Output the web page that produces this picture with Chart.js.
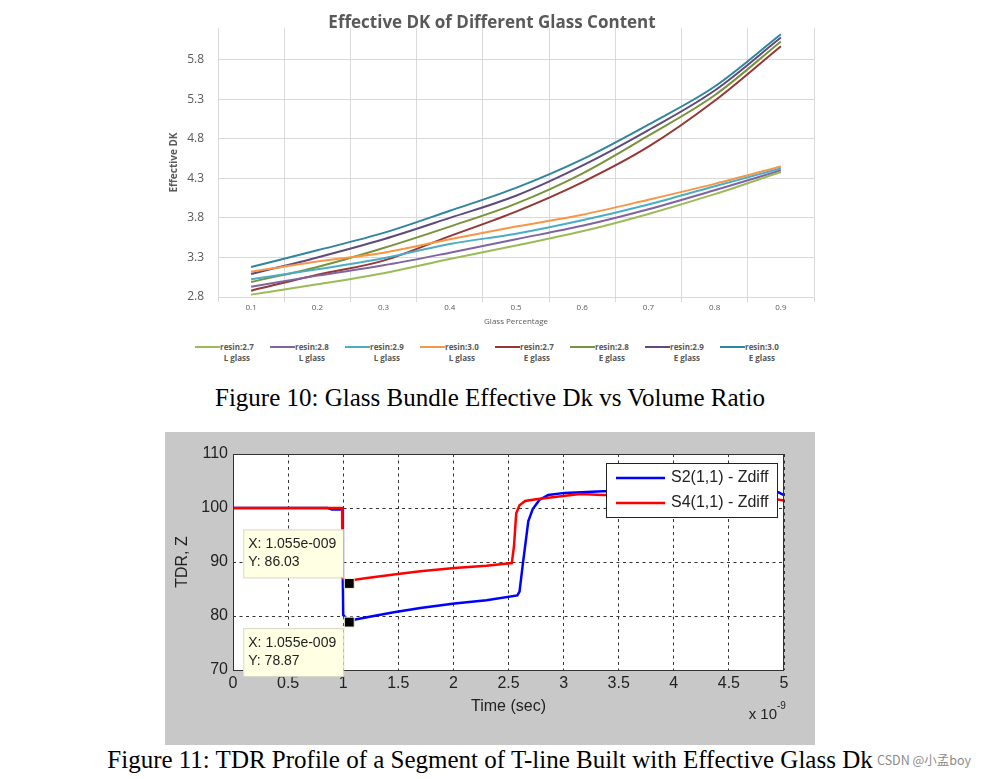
<!DOCTYPE html>
<html>
<head>
<meta charset="utf-8">
<title>Effective DK / TDR</title>
<script src="https://cdn.jsdelivr.net/npm/chart.js@4.4.1/dist/chart.umd.min.js"></script>
<style>
  body { margin: 0; background: #fff; }
  #page { position: relative; width: 1000px; height: 779px; overflow: hidden; }
  #dk-canvas { position: absolute; left: 160px; top: 0; }
  #dk-title {
    position: absolute; left: 0; top: 11px; width: 984px; text-align: center;
    font: bold 17px "Open Sans"; color: #595959; line-height: 22px;
  }
  #dk-legend { position: absolute; left: 0; top: 341px; width: 1000px; height: 26px; }
  .leg-item {
    position: absolute; top: 0; display: flex; align-items: flex-start;
    font: bold 8px "Open Sans"; color: #595959; line-height: 11px;
  }
  .leg-item .sw { display: inline-block; width: 25px; height: 2px; margin-top: 5px; }
  .leg-item .txt { text-align: center; }
  .caption {
    position: absolute; left: 0; width: 980px; text-align: center;
    font: 25px "Liberation Serif"; color: #000; line-height: 28px;
  }
  #tdr-canvas { position: absolute; left: 165px; top: 432px; }
  #mark {
    position: absolute; left: 877px; top: 752px;
    font: 12.5px "Noto Sans CJK SC"; color: #8a8a8a; line-height: 16px;
  }
</style>
</head>
<body>
<div id="page">
  <canvas id="dk-canvas" width="670" height="335"></canvas>
  <div id="dk-title">Effective DK of Different Glass Content</div>
  <div id="dk-legend"></div>
  <div class="caption" style="top:384px">Figure 10: Glass Bundle Effective Dk vs Volume Ratio</div>
  <canvas id="tdr-canvas" width="650" height="313"></canvas>
  <div class="caption" style="top:746px">Figure 11: TDR Profile of a Segment of T-line Built with Effective Glass Dk</div>
  <div id="mark">CSDN @小孟boy</div>
</div>
<script>
// ---- Figure 10 data ----
const glassPct = ["0.1", "0.2", "0.3", "0.4", "0.5", "0.6", "0.7", "0.8", "0.9"];
const dkTicks = [2.8, 3.3, 3.8, 4.3, 4.8, 5.3, 5.8];

const resin27L = [2.83, 2.96, 3.1, 3.28, 3.45, 3.63, 3.85, 4.1, 4.38];
const resin28L = [2.93, 3.07, 3.2, 3.36, 3.53, 3.7, 3.91, 4.15, 4.4];
const resin29L = [3.025, 3.15, 3.29, 3.47, 3.6, 3.77, 3.97, 4.2, 4.425];
const resin30L = [3.12, 3.25, 3.36, 3.53, 3.69, 3.84, 4.03, 4.23, 4.45];
const resin27E = [2.88, 3.08, 3.26, 3.57, 3.88, 4.25, 4.7, 5.28, 5.97];
const resin28E = [2.99, 3.18, 3.42, 3.69, 3.98, 4.36, 4.84, 5.35, 6.03];
const resin29E = [3.09, 3.3, 3.53, 3.8, 4.08, 4.46, 4.91, 5.41, 6.08];
const resin30E = [3.18, 3.39, 3.61, 3.89, 4.18, 4.54, 4.98, 5.46, 6.12];

const resinNames = ["resin:2.7", "resin:2.8", "resin:2.9", "resin:3.0", "resin:2.7", "resin:2.8", "resin:2.9", "resin:3.0"];
const glassNames = ["L glass", "L glass", "L glass", "L glass", "E glass", "E glass", "E glass", "E glass"];

// ---- Figure 11 data (time in units of 1e-9 s) ----
const s2Time = [0, 0.86, 0.9, 0.995, 0.997, 1.0, 1.055, 1.08, 1.12, 1.3, 1.46, 1.7, 2.01, 2.3, 2.58, 2.6, 2.63, 2.68, 2.72, 2.78, 2.86, 3.01, 3.36, 3.8, 4.3, 4.8, 4.95, 5.0];
const s2Z = [100, 100, 99.7, 99.7, 86, 80.2, 78.87, 79.2, 79.4, 80.1, 80.7, 81.5, 82.3, 82.9, 83.8, 84.5, 89.6, 97.6, 99.8, 101.5, 102.4, 102.8, 103.1, 103.2, 103.1, 103.0, 102.9, 102.4];
const s4Time = [0, 0.99, 0.992, 0.995, 1.055, 1.07, 1.2, 1.46, 1.7, 2.01, 2.3, 2.53, 2.55, 2.57, 2.6, 2.65, 2.75, 2.9, 3.15, 3.35, 4.0, 4.5, 4.9, 5.0];
const s4Z = [100, 100, 95, 87, 86.03, 86.6, 87.0, 87.7, 88.3, 88.9, 89.3, 89.8, 93, 99, 100.5, 101.3, 101.6, 102.0, 102.6, 102.4, 102.4, 102.3, 101.7, 101.4];
const tipTime = [1.055, 1.055];
const tipZ = [86.03, 78.87];

// ---- Figure 10 ----
const dkColors = ["#9bbb59", "#8064a2", "#4bacc6", "#f79646", "#953735", "#77933c", "#604a7b", "#31859c"];
const dkSeries = [resin27L, resin28L, resin29L, resin30L, resin27E, resin28E, resin29E, resin30E];

const legendBox = document.getElementById("dk-legend");
dkSeries.forEach((s, i) => {
  const item = document.createElement("div");
  item.className = "leg-item";
  item.style.left = (195 + 75 * i) + "px";
  item.innerHTML = '<span class="sw" style="background:' + dkColors[i] + '"></span>' +
    '<span class="txt">' + resinNames[i] + "<br>" + glassNames[i] + "</span>";
  legendBox.appendChild(item);
});

new Chart(document.getElementById("dk-canvas"), {
  type: "line",
  data: {
    labels: glassPct,
    datasets: dkSeries.map((s, i) => ({
      label: resinNames[i] + " " + glassNames[i],
      data: s,
      borderColor: dkColors[i],
      backgroundColor: dkColors[i],
      borderWidth: 2,
      pointRadius: 0,
      cubicInterpolationMode: "monotone",
      fill: false,
    })),
  },
  options: {
    responsive: false,
    animation: false,
    layout: { padding: { left: 0, right: 16, top: 28, bottom: 0 } },
    plugins: {
      legend: { display: false },
      tooltip: { enabled: false },
    },
    scales: {
      x: {
        offset: true,
        grid: { offset: true, color: "#d9d9d9", drawTicks: true, tickLength: 5, tickColor: "#d9d9d9" },
        border: { display: true, color: "#d9d9d9" },
        ticks: { color: "#595959", padding: 1, maxRotation: 0, font: { size: 8, family: "Open Sans" } },
        title: {
          display: true,
          text: "Glass Percentage",
          color: "#595959",
          font: { size: 8, family: "Open Sans" },
          padding: { top: 0, bottom: 8 },
        },
        afterFit: (s) => { s.height = 38; },
      },
      y: {
        min: 2.8,
        max: 6.2,
        afterBuildTicks: (s) => { s.ticks = dkTicks.map((v) => ({ value: v })); },
        grid: { color: "#d9d9d9", drawTicks: false },
        border: { display: false },
        ticks: {
          color: "#595959",
          padding: 14,
          font: { size: 12, family: "Open Sans" },
          callback: (v) => Number(v).toFixed(1),
        },
        title: {
          display: true,
          text: "Effective DK",
          color: "#595959",
          font: { size: 10, weight: "bold", family: "Open Sans" },
          padding: { top: 8, bottom: 0 },
        },
        afterFit: (s) => { s.width = 58; },
      },
    },
  },
});

// ---- Figure 11 ----
const matlabLook = {
  id: "matlabLook",
  beforeDraw(chart) {
    const { ctx, chartArea: a } = chart;
    ctx.save();
    ctx.fillStyle = "#c8c8c8";
    ctx.fillRect(0, 0, chart.width, chart.height);
    ctx.fillStyle = "#fff";
    ctx.fillRect(a.left, a.top, a.right - a.left, a.bottom - a.top);
    ctx.restore();
  },
  afterDraw(chart) {
    const { ctx, chartArea: a, scales } = chart;
    ctx.save();
    // axes box
    ctx.strokeStyle = "#333";
    ctx.lineWidth = 1;
    ctx.strokeRect(a.left + 0.5, a.top + 0.5, a.right - a.left - 1, a.bottom - a.top);

    // legend
    const lw = 171, lh = 54;
    const lx = a.right - 7 - lw, ly = a.top + 9;
    ctx.fillStyle = "#fff";
    ctx.fillRect(lx, ly, lw, lh);
    ctx.strokeStyle = "#222";
    ctx.strokeRect(lx + 0.5, ly + 0.5, lw, lh);
    ctx.font = "16px 'Liberation Sans'";
    ctx.textBaseline = "middle";
    ctx.textAlign = "left";
    chart.data.datasets.slice(0, 2).forEach((ds, i) => {
      const yy = ly + 15 + i * 25;
      ctx.strokeStyle = ds.borderColor;
      ctx.lineWidth = 2.5;
      ctx.beginPath();
      ctx.moveTo(lx + 10, yy);
      ctx.lineTo(lx + 59, yy);
      ctx.stroke();
      ctx.fillStyle = "#222";
      ctx.fillText(ds.label, lx + 65, yy);
    });

    // data tips
    ctx.font = "14px 'Liberation Sans'";
    tipTime.forEach((t, i) => {
      const px = scales.x.getPixelForValue(t);
      const py = scales.y.getPixelForValue(tipZ[i]);
      const bw = 100, bh = 48;
      const bx = px - 6 - bw;
      const by = i === 0 ? py - 6 - bh : py + 6;
      ctx.fillStyle = "#ffffe4";
      ctx.fillRect(bx, by, bw, bh);
      ctx.strokeStyle = "#d8d8c8";
      ctx.lineWidth = 1;
      ctx.strokeRect(bx + 0.5, by + 0.5, bw, bh);
      ctx.fillStyle = "#222";
      ctx.fillText("X: " + t.toFixed(3) + "e-009", bx + 5, by + 15);
      ctx.fillText("Y: " + tipZ[i].toFixed(2), bx + 5, by + 33);
    });

    // exponent label
    ctx.fillStyle = "#222";
    ctx.textAlign = "right";
    ctx.font = "15px 'Liberation Sans'";
    ctx.fillText("x 10", a.right - 7, a.bottom + 45);
    ctx.textAlign = "left";
    ctx.font = "10px 'Liberation Sans'";
    ctx.fillText("-9", a.right - 7, a.bottom + 36);
    ctx.restore();
  },
};

const matlabFont = { size: 16, family: "Liberation Sans" };

new Chart(document.getElementById("tdr-canvas"), {
  type: "line",
  data: {
    datasets: [
      {
        label: "S2(1,1) - Zdiff",
        data: s2Time.map((t, i) => ({ x: t, y: s2Z[i] })),
        borderColor: "#0000ff",
        borderWidth: 2.5,
        pointRadius: 0,
        tension: 0,
        order: 2,
      },
      {
        label: "S4(1,1) - Zdiff",
        data: s4Time.map((t, i) => ({ x: t, y: s4Z[i] })),
        borderColor: "#ff0000",
        borderWidth: 2.5,
        pointRadius: 0,
        tension: 0,
        order: 1,
      },
      {
        label: "data tips",
        data: tipTime.map((t, i) => ({ x: t, y: tipZ[i] })),
        showLine: false,
        pointStyle: "rect",
        pointRadius: 7,
        backgroundColor: "#000",
        borderColor: "#f4f4d8",
        borderWidth: 1,
        order: 0,
      },
    ],
  },
  options: {
    responsive: false,
    animation: false,
    layout: { padding: { left: 0, right: 31, top: 22, bottom: 0 } },
    plugins: {
      legend: { display: false },
      tooltip: { enabled: false },
    },
    scales: {
      x: {
        type: "linear",
        min: 0,
        max: 5,
        ticks: {
          stepSize: 0.5,
          color: "#222",
          padding: 4,
          font: matlabFont,
          maxRotation: 0,
          callback: (v) => String(Number(v)),
        },
        grid: { color: "#333", drawTicks: false },
        border: { display: false, dash: [3, 3.5] },
        title: { display: true, text: "Time (sec)", color: "#222", font: matlabFont, padding: { top: 0, bottom: 29 } },
        afterFit: (s) => { s.height = 75; },
      },
      y: {
        min: 70,
        max: 110,
        ticks: { stepSize: 10, color: "#222", padding: 5, font: matlabFont },
        grid: { color: "#333", drawTicks: false },
        border: { display: false, dash: [3, 3.5] },
        title: { display: true, text: "TDR, Z", color: "#222", font: matlabFont, padding: { top: 8, bottom: 0 } },
        afterFit: (s) => { s.width = 68; },
      },
    },
  },
  plugins: [matlabLook],
});
</script>
</body>
</html>
